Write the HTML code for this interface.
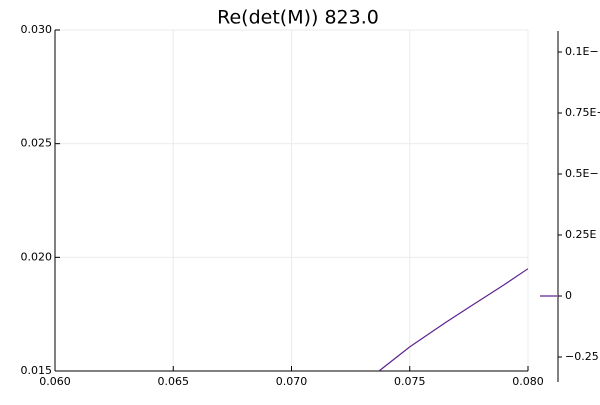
<!DOCTYPE html>
<html><head><meta charset="utf-8"><style>
body{margin:0;background:#fff;}
svg text{font-family:"DejaVu Sans","Liberation Sans",sans-serif;}
</style></head><body>
<svg id="c" width="600" height="400" xmlns="http://www.w3.org/2000/svg">
<text x="298" y="18" font-size="19" text-anchor="middle" dominant-baseline="middle" fill="#000">Re(det(M)) 823.0</text>
<g id="grid"></g>
<g id="axes"></g>
<g id="series"></g>
<g id="cbar"></g>
</svg>
<script>
const xTicks=[0.060,0.065,0.070,0.075,0.080];
const yTicks=[0.015,0.020,0.025,0.030];
const curveX=[0.0737,0.075,0.0765,0.0775,0.079,0.080];
const curveY=[0.0150,0.01606,0.01712,0.0178,0.0188,0.0195];
const cbTickVals=[0.1,0.075,0.05,0.025,0,-0.025];
const cbTickLabels=["0.1E\u2212","0.75E\u2212","0.5E\u2212","0.25E","0","\u22120.25"];
const L=55,R=528,T=30,B=371;
const sx=v=>L+(v-0.060)/(0.020)*(R-L);
const sy=v=>B-(v-0.015)/(0.015)*(B-T);
const cy=v=>296-v/0.025*61;
const NS="http://www.w3.org/2000/svg";
function mk(t,p,a){const e=document.createElementNS(NS,t);for(const k in a)e.setAttribute(k,a[k]);p.appendChild(e);return e;}
const grid=document.getElementById('grid'),axes=document.getElementById('axes');
xTicks.forEach((v,i)=>{
 const g=mk('line',grid,{x1:sx(v),x2:sx(v),y1:T,y2:B,stroke:'#ebebeb','stroke-width':1});
 
 
 const tk=mk('line',axes,{x1:sx(v),x2:sx(v),y1:B,y2:B-5,stroke:'#000'});
 
 
 const t=mk('text',axes,{x:sx(v),y:B+11,'font-size':11,'text-anchor':'middle','dominant-baseline':'middle'});
 t.textContent=v.toFixed(3);
 
 
});
yTicks.forEach(v=>{
 const g=mk('line',grid,{x1:L,x2:R,y1:sy(v),y2:sy(v),stroke:'#ebebeb','stroke-width':1});
 
 
 const tk=mk('line',axes,{x1:L,x2:L+5,y1:sy(v),y2:sy(v),stroke:'#000'});
 
 
 const t=mk('text',axes,{x:L-3,y:sy(v),'font-size':11,'text-anchor':'end','dominant-baseline':'middle'});
 t.textContent=v.toFixed(3);
 
 
});
const xa=mk('line',axes,{x1:L,x2:R,y1:B,y2:B,stroke:'#000'});


const ya=mk('line',axes,{x1:L,x2:L,y1:T,y2:B,stroke:'#000'});


const cp=mk('clipPath',document.getElementById('c'),{id:'clip'});
mk('rect',cp,{x:L,y:T,width:R-L,height:B-T});
const pl=mk('polyline',document.getElementById('series'),{points:curveX.map((x,i)=>sx(x)+','+sy(curveY[i])).join(' '),fill:'none',stroke:'#5d2490','stroke-width':1.2,'clip-path':'url(#clip)'});


const cb=document.getElementById('cbar');
const ca=mk('line',cb,{x1:558,x2:558,y1:31,y2:382,stroke:'#000'});


const cl=mk('line',cb,{x1:540,x2:557,y1:cy(0),y2:cy(0),stroke:'#5d2490','stroke-width':1.2});


cbTickVals.forEach((v,i)=>{
 const tk=mk('line',cb,{x1:558,x2:562,y1:cy(v),y2:cy(v),stroke:'#000'});
 
 
 const t=mk('text',cb,{x:565,y:cy(v),'font-size':11,'dominant-baseline':'middle'});
 t.textContent=cbTickLabels[i];
 
 
});
</script>
</body></html>
